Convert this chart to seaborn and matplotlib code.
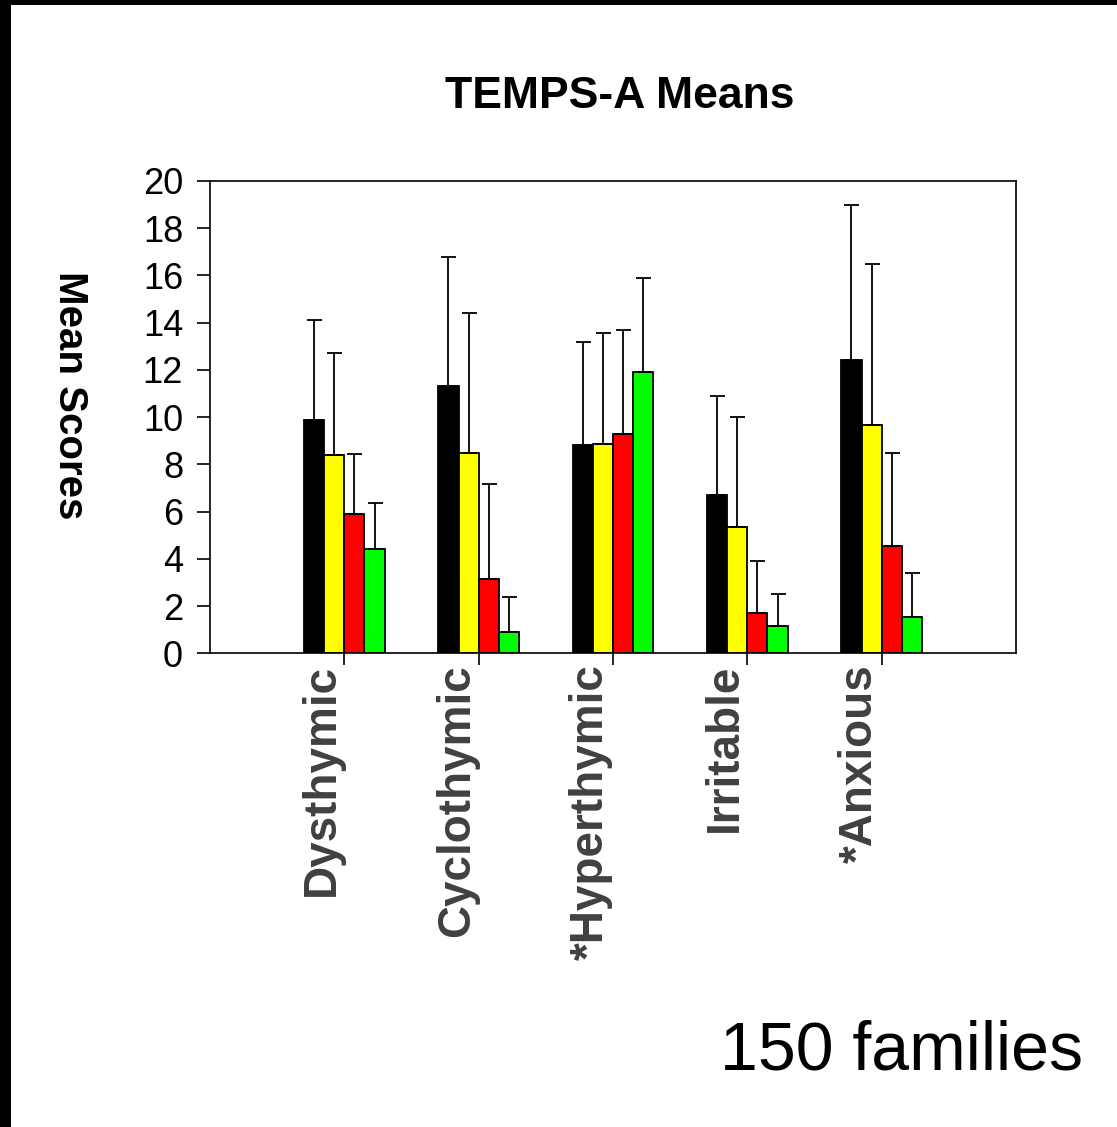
import numpy as np
import pandas as pd
import matplotlib
matplotlib.use("Agg")
import matplotlib.pyplot as plt
from matplotlib.patches import Rectangle
import seaborn as sns

# ---- data ----
categories = ["Dysthymic", "Cyclothymic", "*Hyperthymic", "Irritable", "*Anxious"]
series_names = ["Group 1", "Group 2", "Group 3", "Group 4"]
black_means = [9.9, 11.3, 8.8, 6.7, 12.4]
yellow_means = [8.4, 8.5, 8.85, 5.35, 9.65]
red_means = [5.9, 3.15, 9.3, 1.7, 4.55]
green_means = [4.4, 0.9, 11.9, 1.15, 1.55]
black_sd = [4.2, 5.5, 4.4, 4.2, 6.6]
yellow_sd = [4.3, 5.9, 4.7, 4.65, 6.85]
red_sd = [2.55, 4.0, 4.4, 2.2, 3.95]
green_sd = [1.95, 1.5, 4.0, 1.35, 1.85]
y_ticks = [0, 2, 4, 6, 8, 10, 12, 14, 16, 18, 20]
bar_colors = ["#000000", "#FFFF00", "#FF0000", "#00FF00"]

means = [black_means, yellow_means, red_means, green_means]
sds = [black_sd, yellow_sd, red_sd, green_sd]
rows = []
for name, m in zip(series_names, means):
    for cat, v in zip(categories, m):
        rows.append({"category": cat, "series": name, "value": v})
df = pd.DataFrame(rows)

sns.set_style("ticks")
plt.rcParams["font.family"] = ["Liberation Sans", "DejaVu Sans"]
plt.rcParams["text.color"] = "black"
plt.rcParams["axes.labelcolor"] = "black"
plt.rcParams["xtick.color"] = "black"
plt.rcParams["ytick.color"] = "black"

W, H = 1117, 1127
fig = plt.figure(figsize=(W / 100, H / 100), dpi=100)
ax = fig.add_axes([210 / W, 1 - 653.3 / H, (1016 - 210) / W, (653.3 - 181) / H])

sns.barplot(data=df, x="category", y="value", hue="series", order=categories,
            hue_order=series_names, palette=bar_colors, errorbar=None,
            width=0.6, gap=0, edgecolor="black", linewidth=1.3, saturation=1,
            legend=False, ax=ax)

# one-sided (upper) error bars
for cont, sd in zip(ax.containers, sds):
    xs = [b.get_x() + b.get_width() / 2 for b in cont]
    ys = [b.get_height() for b in cont]
    ax.errorbar(xs, ys, yerr=[np.zeros(len(sd)), sd], fmt="none", ecolor="black",
                elinewidth=1.3, capsize=5.4, capthick=1.3, zorder=1)

ax.set_xlim(-1, 5)
ax.set_ylim(0, 20)
ax.set_yticks(y_ticks)
ax.set_yticklabels([str(t) for t in y_ticks], fontsize=26, color="black")
ax.set_xticks(range(len(categories)))
ax.set_xticklabels(categories, rotation=90, fontsize=33, fontweight="bold",
                   color="#404040", ha="right", va="top")
ax.tick_params(axis="y", direction="out", length=9.4, width=1.2, pad=10, colors="black")
ax.tick_params(axis="x", direction="out", length=8.6, width=1.2, pad=-1, color="black")
for lbl in ax.get_xticklabels():
    lbl.set_color("#404040")
for s in ax.spines.values():
    s.set_visible(True)
    s.set_color("black")
    s.set_linewidth(1.2)
ax.set_xlabel("")
ax.set_ylabel("Mean Scores", rotation=270, fontsize=29, fontweight="bold", color="black")
ax.yaxis.set_label_coords((70 - 210) / 806, (653.3 - 395) / 472.3)
ax.yaxis.label.set_va("center")
ax.yaxis.label.set_ha("center")

ax.set_title("TEMPS-A Means", fontsize=32, fontweight="bold", color="black",
             x=(620 - 210) / 806, y=(653.3 - 116) / 472.3, va="baseline")

fig.text(1083 / W, 1 - 1070 / H, "150 families", fontsize=49, ha="right",
         va="baseline", color="black")

# black frame stripes (left and top)
fig.add_artist(Rectangle((0, 0), 11 / W, 1, transform=fig.transFigure,
                         facecolor="black", edgecolor="none", zorder=10))
fig.add_artist(Rectangle((0, 1 - 5 / H), 1, 5 / H, transform=fig.transFigure,
                         facecolor="black", edgecolor="none", zorder=10))

fig.savefig("out.png", dpi=100, facecolor="white")
